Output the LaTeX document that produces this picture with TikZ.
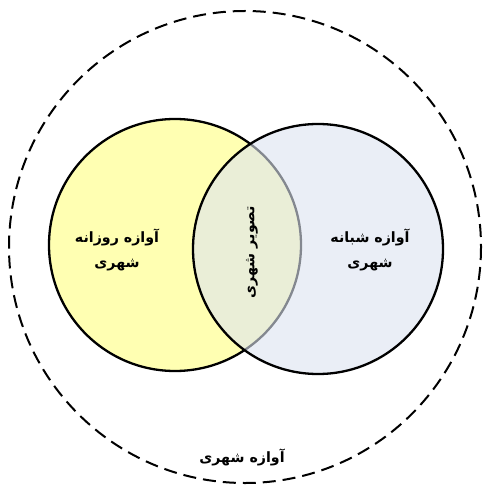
\documentclass[tikz,border=0pt]{standalone}
\usepackage{fontspec}
\TeXXeTstate=1
\newfontfamily\arabicfont[Script=Arabic]{DejaVu Sans}
\definecolor{dayfill}{HTML}{FFFFB2}
\definecolor{nightfill}{HTML}{DDE4F0}
\begin{document}
\begin{tikzpicture}[x=1pt,y=-1pt,
  ring/.style={line width=2.3pt},
  lbl/.style={font=\arabicfont\bfseries\fontsize{14.2}{25}\selectfont, align=center, text=black}]
\useasboundingbox (0,0) rectangle (489,489);
\fill[white] (0,0) rectangle (489,489);
% outer dashed circle
\draw[line width=2pt, dash pattern=on 13pt off 7pt] (245,247) circle[radius=236];
% left circle
\draw[ring, fill=dayfill] (175,245) circle[radius=126];
% right circle
\fill[nightfill, fill opacity=0.6] (318,249) circle[radius=125];
\draw[ring] (318,249) circle[radius=125];
% labels
\node[lbl] (day) at (117,250) {\beginR آوازه روزانه\endR\\\beginR شهری\endR};
\node[lbl] (night) at (370,250) {\beginR آوازه شبانه\endR\\\beginR شهری\endR};
\node[lbl, rotate=90] (image) at (252,252) {\beginR تصویر شهری\endR};
\node[lbl] (city) at (242,457) {\beginR آوازه شهری\endR};
\end{tikzpicture}
\end{document}
